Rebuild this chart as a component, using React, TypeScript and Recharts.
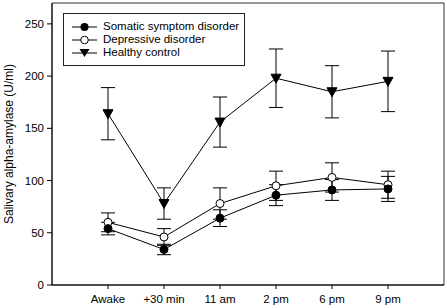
import React from "react"
import {
  ComposedChart,
  Line,
  XAxis,
  YAxis,
  ErrorBar,
  ReferenceArea,
  Legend,
} from "recharts"

const categories = ["Awake", "+30 min", "11 am", "2 pm", "6 pm", "9 pm"]
const somatic = [54, 34, 64, 86, 91, 92]
const somaticErr = [6, 5, 8, 10, 10, 12]
const depressive = [60, 46, 78, 95, 103, 96]
const depressiveErr = [9, 8, 15, 14, 14, 13]
const healthy = [164, 78, 156, 198, 185, 195]
const healthyErr = [25, 15, 24, 28, 25, 29]
const yTicks = [0, 50, 100, 150, 200, 250]

const data = categories.map((name, i) => ({
  pos: i + 1,
  name,
  somatic: somatic[i],
  somaticErr: somaticErr[i],
  depressive: depressive[i],
  depressiveErr: depressiveErr[i],
  healthy: healthy[i],
  healthyErr: healthyErr[i],
}))

const font = "'Liberation Sans', Arial, sans-serif"

const FilledDot = (props: any) => (
  <circle cx={props.cx} cy={props.cy} r={4} fill="#000" stroke="#000" />
)
const OpenDot = (props: any) => (
  <circle cx={props.cx} cy={props.cy} r={4} fill="#fff" stroke="#000" />
)
const TriDot = (props: any) => {
  const { cx, cy } = props
  return (
    <path
      d={`M${cx - 5},${cy - 4} L${cx + 5},${cy - 4} L${cx},${cy + 5} Z`}
      fill="#000"
      stroke="#000"
    />
  )
}

const legendItems = [
  { label: "Somatic symptom disorder", marker: "filled" },
  { label: "Depressive disorder", marker: "open" },
  { label: "Healthy control", marker: "tri" },
]

function LegendBox() {
  return (
    <div
      style={{
        border: "1px solid #222",
        width: 182,
        height: 53,
        boxSizing: "border-box",
        padding: "6px 0 0 7px",
        fontFamily: font,
        fontSize: 11.5,
        color: "#000",
        background: "#fff",
        whiteSpace: "nowrap",
      }}
    >
      {legendItems.map((it) => (
        <div key={it.label} style={{ display: "flex", alignItems: "center", height: 13 }}>
          <svg width={32} height={12}>
            <line x1={1} y1={6} x2={26} y2={6} stroke="#000" />
            {it.marker === "filled" && <circle cx={13.5} cy={6} r={4} fill="#000" />}
            {it.marker === "open" && <circle cx={13.5} cy={6} r={3.8} fill="#fff" stroke="#000" />}
            {it.marker === "tri" && <path d="M8.5,2 L18.5,2 L13.5,10 Z" fill="#000" />}
          </svg>
          <span style={{ lineHeight: "13px" }}>{it.label}</span>
        </div>
      ))}
    </div>
  )
}

export default function App() {
  return (
    <div style={{ width: 447, height: 308, background: "#fff" }}>
      <style>{`body{margin:0}`}</style>
      <ComposedChart
        width={447}
        height={308}
        data={data}
        margin={{ top: 3, right: 3, left: 0, bottom: 0 }}
      >
        <ReferenceArea
          x1={0}
          x2={7}
          y1={0}
          y2={270}
          fill="none"
          stroke="#333"
          strokeWidth={1}
        />
        <XAxis
          type="number"
          dataKey="pos"
          domain={[0, 7]}
          ticks={[1, 2, 3, 4, 5, 6]}
          tickFormatter={(v: number) => categories[v - 1] ?? ""}
          height={23}
          tickSize={4}
          tickMargin={6}
          stroke="#000"
          tick={{ fill: "#000", fontSize: 11.5, fontFamily: font }}
        />
        <YAxis
          domain={[0, 270]}
          ticks={yTicks}
          width={52}
          tickSize={5}
          tickMargin={3}
          stroke="#000"
          tick={{ fill: "#000", fontSize: 11.5, fontFamily: font }}
          label={{
            value: "Salivary alpha-amylase (U/ml)",
            angle: -90,
            position: "center",
            dx: -17,
            style: { fill: "#000", fontSize: 12, fontFamily: font },
          }}
        />
        <Legend
          layout="horizontal"
          verticalAlign="middle"
          align="center"
          wrapperStyle={{ top: 13, left: 63, width: 182 }}
          content={() => <LegendBox />}
        />
        <Line
          dataKey="healthy"
          stroke="#000"
          strokeWidth={1}
          dot={<TriDot />}
          isAnimationActive={false}
        >
          <ErrorBar dataKey="healthyErr" direction="y" width={7} stroke="#000" strokeWidth={1} />
        </Line>
        <Line
          dataKey="depressive"
          stroke="#000"
          strokeWidth={1}
          dot={<OpenDot />}
          isAnimationActive={false}
        >
          <ErrorBar dataKey="depressiveErr" direction="y" width={7} stroke="#000" strokeWidth={1} />
        </Line>
        <Line
          dataKey="somatic"
          stroke="#000"
          strokeWidth={1}
          dot={<FilledDot />}
          isAnimationActive={false}
        >
          <ErrorBar dataKey="somaticErr" direction="y" width={7} stroke="#000" strokeWidth={1} />
        </Line>
      </ComposedChart>
    </div>
  )
}
